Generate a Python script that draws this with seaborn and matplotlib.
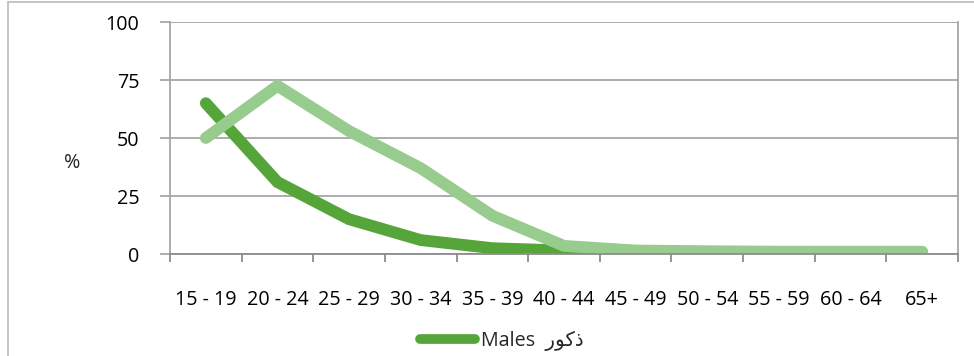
import matplotlib
matplotlib.use("Agg")
import matplotlib.pyplot as plt
from matplotlib.lines import Line2D
from matplotlib.patches import Rectangle
import seaborn as sns
import pandas as pd
import numpy as np

# Age groups and participation rates (%)
age_groups = ["15 - 19", "20 - 24", "25 - 29", "30 - 34", "35 - 39", "40 - 44",
              "45 - 49", "50 - 54", "55 - 59", "60 - 64", "65+"]
males = [65, 31, 15, 6, 2.5, 1.5, 1, 0.8, 0.8, 0.7, 0.7]
females = [50, 72.5, 53, 37, 16.5, 3.5, 1.5, 1.2, 1, 1, 1]
y_ticks = [0, 25, 50, 75, 100]
males_label = "Males  \uFEAD\uFEEE\uFEDB\uFEAB"

dark_green = "#55A53B"
light_green = "#98CC8E"
grid_gray = "#A6A6A6"
axis_gray = "#8C8C8C"
fs = 14.2

sns.set_theme(style="white")
plt.rcParams["font.family"] = ["Open Sans", "DejaVu Sans"]

fig = plt.figure(figsize=(9.74, 3.56), dpi=100)
ax = fig.add_axes([170 / 974, 1 - 254 / 356, (958 - 170) / 974, (254 - 22) / 356])

pos = np.arange(len(age_groups)) + 0.5
df_m = pd.DataFrame({"x": pos, "y": males})
df_f = pd.DataFrame({"x": pos, "y": females})

sns.lineplot(data=df_m, x="x", y="y", ax=ax, color=dark_green, linewidth=8.5,
             solid_capstyle="round", solid_joinstyle="miter", sort=False)
sns.lineplot(data=df_f, x="x", y="y", ax=ax, color=light_green, linewidth=8.5,
             solid_capstyle="round", solid_joinstyle="miter", sort=False)

ax.set_xlim(0, len(age_groups))
ax.set_ylim(0, 100)
ax.set_xlabel("")
ax.set_ylabel("")

# y axis: gridlines and outward ticks
ax.set_yticks(y_ticks)
ax.set_yticklabels([str(t) for t in y_ticks], fontsize=fs, color="black")
ax.yaxis.grid(True, color=grid_gray, linewidth=1.3)
ax.set_axisbelow(True)
ax.tick_params(axis="y", which="major", left=True, length=7, width=1.3,
               color=grid_gray, pad=15)

# x axis: tick marks between categories, labels centred under each group
ax.set_xticks(np.arange(len(age_groups) + 1))
ax.set_xticklabels([])
ax.set_xticks(pos, minor=True)
ax.set_xticklabels(age_groups, minor=True, fontsize=fs, color="black")
ax.tick_params(axis="x", which="major", bottom=True, length=6, width=1.3,
               color=axis_gray)
ax.tick_params(axis="x", which="minor", bottom=False, length=0, pad=26)

for side in ["left", "right"]:
    ax.spines[side].set_visible(True)
    ax.spines[side].set_color(grid_gray)
    ax.spines[side].set_linewidth(1.3)
ax.spines["bottom"].set_color(axis_gray)
ax.spines["bottom"].set_linewidth(1.3)
ax.spines["top"].set_visible(False)

fig.text(72 / 974, 1 - 163 / 356, "%", fontsize=fs, ha="center", va="center")

handle = Line2D([0], [0], color=dark_green, linewidth=7, solid_capstyle="round")
fig.legend([handle], [males_label], loc="center", bbox_to_anchor=(0.515, 1 - 341 / 356),
           frameon=False, fontsize=fs, handlelength=2.8, handletextpad=0.3,
           borderpad=0, borderaxespad=0)

# outer chart frame
fig.patches.append(Rectangle((8 / 974, -0.1), 1.2, 1 - 1.5 / 356 + 0.1,
                             transform=fig.transFigure, fill=False,
                             edgecolor="#BFBFBF", linewidth=1.3, zorder=0))

fig.savefig("out.png", dpi=100)
